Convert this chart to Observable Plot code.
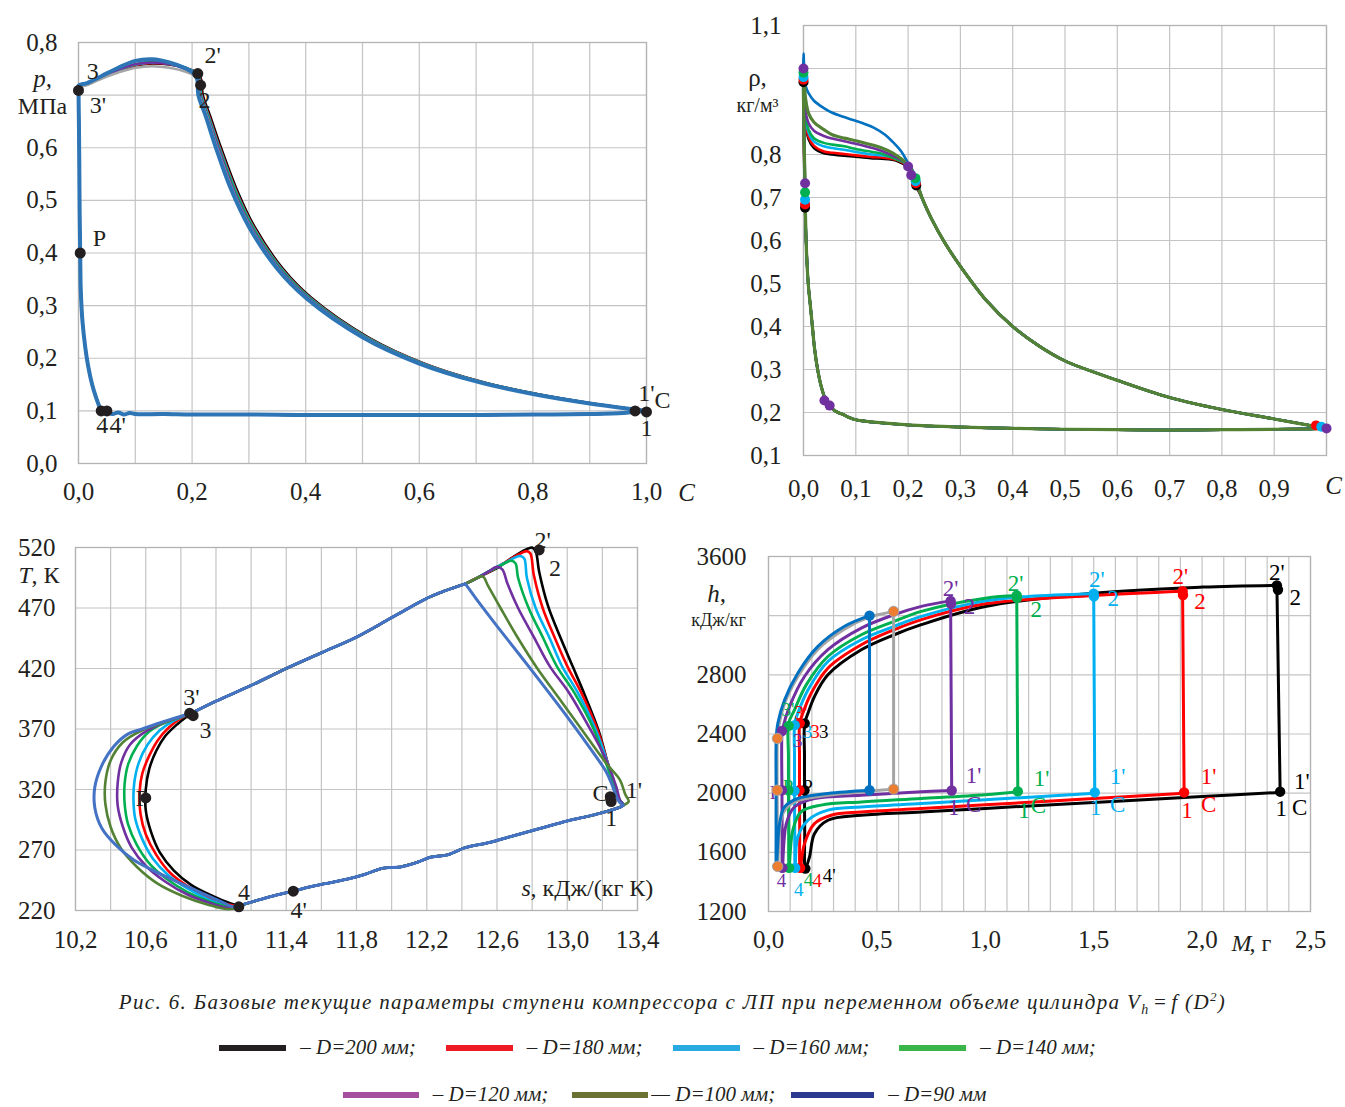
<!DOCTYPE html>
<html><head><meta charset="utf-8">
<script src="https://cdn.jsdelivr.net/npm/d3@7"></script>
<script src="https://cdn.jsdelivr.net/npm/@observablehq/plot@0.6"></script>
<style>
body{margin:0;background:#fff;}
#root{position:relative;width:1345px;height:1107px;overflow:hidden;font-family:"Liberation Serif","Times New Roman",serif;color:#231f20;}
.panel{position:absolute;}
.panel svg{overflow:visible;}
.cap{position:absolute;left:0;width:1345px;text-align:center;font-style:italic;font-size:21px;letter-spacing:1.35px;white-space:nowrap;}
.leg{position:absolute;left:0;width:1345px;display:flex;justify-content:center;align-items:center;font-style:italic;font-size:21px;white-space:nowrap;}
.sw{display:inline-block;height:6px;}
.lt{margin-left:14px;margin-right:30px;}
</style></head>
<body><div id="root"></div>
<script>
// ---------------- series ----------------
const seriesNames = ["D=200 мм","D=180 мм","D=160 мм","D=140 мм","D=120 мм","D=100 мм","D=90 мм"];

// ---------------- Panel 1: p(C) ----------------
const pcColors = ["#000000","#ff0000","#00b0f0","#00b050","#7030a0","#a5a5a5","#2e75b6"];
const pcWidths = [2.4,2.4,2.4,2.4,2.4,2.6,4];
const pcCompD200 = [[1.0,0.1],[0.905,0.114],[0.807,0.132],[0.708,0.156],[0.609,0.19],[0.51,0.24],[0.41,0.315],[0.36,0.37],[0.31,0.45],[0.279,0.52],[0.251,0.6],[0.232,0.66],[0.219,0.7]];
const pcCompD180 = [[1.0,0.1],[0.904,0.114],[0.806,0.132],[0.707,0.156],[0.608,0.19],[0.508,0.24],[0.408,0.315],[0.358,0.37],[0.308,0.45],[0.277,0.52],[0.249,0.6],[0.23,0.66],[0.217,0.7]];
const pcCompD160 = [[1.0,0.1],[0.904,0.114],[0.805,0.132],[0.706,0.156],[0.607,0.19],[0.507,0.24],[0.407,0.315],[0.357,0.37],[0.307,0.45],[0.276,0.52],[0.248,0.6],[0.229,0.66],[0.216,0.7]];
const pcCompD140 = [[1.0,0.1],[0.903,0.114],[0.805,0.132],[0.706,0.156],[0.606,0.19],[0.506,0.24],[0.406,0.315],[0.356,0.37],[0.306,0.45],[0.275,0.52],[0.247,0.6],[0.228,0.66],[0.215,0.7]];
const pcCompD120 = [[1.0,0.1],[0.902,0.114],[0.803,0.132],[0.704,0.156],[0.604,0.19],[0.504,0.24],[0.404,0.315],[0.354,0.37],[0.304,0.45],[0.273,0.52],[0.246,0.6],[0.227,0.66],[0.214,0.7]];
const pcCompD100 = [[1.0,0.1],[0.901,0.114],[0.802,0.132],[0.702,0.156],[0.602,0.19],[0.502,0.24],[0.402,0.315],[0.352,0.37],[0.302,0.45],[0.271,0.52],[0.244,0.6],[0.226,0.66],[0.213,0.7]];
const pcCompD90  = [[1.0,0.1],[0.9,0.114],[0.8,0.132],[0.7,0.156],[0.6,0.19],[0.5,0.24],[0.4,0.315],[0.35,0.37],[0.3,0.45],[0.269,0.52],[0.242,0.6],[0.224,0.66],[0.211,0.7]];
const pcDisD200 = [[0.216,0.73],[0.21,0.742],[0.19,0.751],[0.16,0.758],[0.13,0.76],[0.1,0.756],[0.07,0.745],[0.04,0.732],[0.015,0.72],[0.0,0.715]];
const pcDisD180 = [[0.214,0.731],[0.208,0.742],[0.19,0.752],[0.16,0.759],[0.13,0.761],[0.1,0.757],[0.07,0.746],[0.04,0.733],[0.015,0.721],[0.0,0.715]];
const pcDisD160 = [[0.213,0.731],[0.207,0.742],[0.19,0.752],[0.16,0.76],[0.13,0.762],[0.1,0.758],[0.07,0.747],[0.04,0.733],[0.015,0.721],[0.0,0.716]];
const pcDisD140 = [[0.212,0.731],[0.206,0.741],[0.19,0.751],[0.16,0.76],[0.13,0.763],[0.1,0.759],[0.07,0.748],[0.04,0.734],[0.015,0.721],[0.0,0.716]];
const pcDisD120 = [[0.211,0.73],[0.205,0.74],[0.19,0.749],[0.16,0.759],[0.13,0.762],[0.1,0.759],[0.07,0.748],[0.04,0.734],[0.015,0.721],[0.0,0.716]];
const pcDisD100 = [[0.211,0.728],[0.204,0.737],[0.19,0.744],[0.16,0.752],[0.13,0.755],[0.1,0.752],[0.07,0.743],[0.04,0.731],[0.015,0.719],[0.0,0.714]];
const pcDisD90  = [[0.209,0.73],[0.202,0.742],[0.19,0.75],[0.16,0.762],[0.13,0.768],[0.1,0.765],[0.07,0.752],[0.04,0.736],[0.015,0.723],[0.0,0.718]];
const pcExp = [[0.0,0.71],[0.001,0.62],[0.0015,0.55],[0.002,0.48],[0.003,0.4],[0.004,0.33],[0.007,0.27],[0.012,0.22],[0.017,0.185],[0.024,0.15],[0.031,0.125],[0.038,0.105],[0.042,0.098]];
const pcSuc = [[0.05,0.097],[0.06,0.094],[0.07,0.097],[0.08,0.093],[0.09,0.096],[0.1,0.094],[0.15,0.094],[0.2,0.093],[0.3,0.093],[0.4,0.092],[0.5,0.092],[0.6,0.092],[0.7,0.092],[0.8,0.093],[0.9,0.094],[0.96,0.096],[1.0,0.1]];
const pcDots = [[0.0,0.709],[0.21,0.741],[0.215,0.719],[0.003,0.4],[0.04,0.1],[0.05,0.1],[0.98,0.1],[1.0,0.098]];
const pcLabels = [["3",0.025,0.745],["3'",0.034,0.68],["2'",0.236,0.775],["2",0.222,0.69],["P",0.037,0.428],["4",0.042,0.072],["4'",0.069,0.072],["1'",1.0,0.133],["C",1.028,0.12],["1",1.0,0.066]];
const pcXTicks = [0,0.2,0.4,0.6,0.8,1.0];
const pcYTicks = [0,0.1,0.2,0.3,0.4,0.5,0.6,0.8];

// ---------------- Panel 2: rho(C) ----------------
const rcColors = ["#000000","#ff0000","#00b0f0","#00b050","#7030a0","#548235","#0070c0"];
const rcComp = [[1.0,0.163],[0.9,0.185],[0.8,0.207],[0.7,0.235],[0.6,0.275],[0.5,0.32],[0.45,0.355],[0.4,0.4],[0.35,0.46],[0.3,0.54],[0.27,0.595],[0.245,0.65],[0.228,0.695]];
const rcDisD200 = [[0.2156,0.728],[0.21,0.752],[0.2,0.77],[0.179,0.785],[0.15,0.79],[0.132,0.791],[0.1,0.795],[0.078,0.797],[0.055,0.8],[0.039,0.803],[0.02,0.815],[0.01,0.835],[0.004,0.87],[0.0,0.968],[0.003,0.676]];
const rcDisD180 = [[0.215,0.733],[0.209,0.755],[0.2,0.772],[0.179,0.787],[0.15,0.793],[0.132,0.794],[0.1,0.798],[0.078,0.801],[0.055,0.804],[0.039,0.807],[0.02,0.82],[0.01,0.84],[0.004,0.875],[0.0,0.974],[0.003,0.684]];
const rcDisD160 = [[0.2145,0.738],[0.208,0.758],[0.2,0.774],[0.179,0.79],[0.15,0.798],[0.132,0.8],[0.1,0.806],[0.078,0.811],[0.055,0.815],[0.039,0.819],[0.02,0.83],[0.01,0.85],[0.004,0.885],[0.0,0.98],[0.003,0.695]];
const rcDisD140 = [[0.214,0.742],[0.207,0.761],[0.2,0.777],[0.179,0.788],[0.15,0.802],[0.132,0.806],[0.1,0.813],[0.078,0.819],[0.055,0.823],[0.039,0.827],[0.02,0.838],[0.01,0.857],[0.004,0.89],[0.0,0.99],[0.003,0.712]];
const rcDisD120 = [[0.213,0.747],[0.206,0.765],[0.2,0.777],[0.179,0.792],[0.15,0.808],[0.132,0.815],[0.1,0.825],[0.078,0.831],[0.055,0.837],[0.039,0.843],[0.02,0.855],[0.01,0.872],[0.004,0.9],[0.0,1.0],[0.003,0.733]];
const rcDisD100 = [[0.212,0.75],[0.205,0.768],[0.2,0.776],[0.171,0.803],[0.15,0.815],[0.132,0.822],[0.1,0.832],[0.078,0.838],[0.055,0.846],[0.039,0.858],[0.02,0.875],[0.01,0.895],[0.004,0.93],[0.0,0.995],[0.003,0.72]];
const rcDisD90  = [[0.21,0.76],[0.2,0.78],[0.187,0.807],[0.17,0.83],[0.156,0.846],[0.135,0.862],[0.117,0.871],[0.095,0.88],[0.078,0.887],[0.055,0.897],[0.039,0.908],[0.02,0.925],[0.01,0.942],[0.004,0.96],[0.0,1.035],[0.003,0.72]];
const rcExp = [[0.005,0.6],[0.009,0.5],[0.013,0.45],[0.017,0.4],[0.021,0.35],[0.027,0.3],[0.034,0.26],[0.043,0.227]];
const rcSuc = [[0.05,0.215],[0.058,0.206],[0.066,0.2],[0.075,0.196],[0.086,0.189],[0.1,0.183],[0.13,0.178],[0.2,0.171],[0.3,0.166],[0.4,0.163],[0.5,0.161],[0.6,0.16],[0.7,0.159],[0.8,0.16],[0.9,0.161],[0.97,0.162],[1.0,0.163]];
const rcDotsD200 = [[0.0,0.968],[0.003,0.676],[0.2156,0.728]];
const rcDotsD180 = [[0.0,0.974],[0.003,0.684],[0.215,0.733],[0.98,0.17]];
const rcDotsD160 = [[0.0,0.98],[0.003,0.695],[0.2145,0.738],[0.99,0.167]];
const rcDotsD140 = [[0.0,0.99],[0.003,0.712],[0.214,0.745]];
const rcDotsD120 = [[0.0,1.0],[0.003,0.733],[0.206,0.752],[0.2,0.772],[0.04,0.228],[0.05,0.216],[1.0,0.163]];
const rcXTicks = [0,0.1,0.2,0.3,0.4,0.5,0.6,0.7,0.8,0.9];
const rcYTicks = [0.1,0.2,0.3,0.4,0.5,0.6,0.7,0.8,1.1];

// ---------------- Panel 3: T(s) ----------------
const tsColors = ["#000000","#ff0000","#00b0f0","#00b050","#7030a0","#548235","#4472c4"];
const tsSuc = [[11.13,224],[11.25,229],[11.35,233],[11.44,236],[11.55,240],[11.65,243],[11.75,246],[11.85,250],[11.95,255],[12.05,256],[12.15,260],[12.22,264],[12.32,266],[12.42,272],[12.55,276],[12.7,282],[12.85,288],[13.0,294],[13.15,299],[13.25,303],[13.32,307]];
const tsDis = [[12.42,490],[12.3,484],[12.2,478],[12.0,462],[11.8,446],[11.6,433],[11.4,420],[11.2,406],[11.0,393],[10.86,383]];
const tsCompD200 = [[13.3,311],[13.27,322],[13.23,342],[13.18,368],[13.1,398],[13.03,422],[12.96,446],[12.89,472],[12.84,500],[12.82,517],[12.8,520],[12.76,518],[12.68,511],[12.6,503],[12.5,496],[12.42,490]];
const tsCompD180 = [[13.3,311],[13.27,322],[13.23,342],[13.17,370],[13.08,400],[13.0,422],[12.93,445],[12.86,470],[12.81,497],[12.79,515],[12.77,517],[12.72,514],[12.66,509],[12.58,502],[12.5,496],[12.42,490]];
const tsCompD160 = [[13.3,311],[13.27,322],[13.23,342],[13.16,370],[13.06,400],[12.97,422],[12.9,445],[12.82,470],[12.77,495],[12.755,511],[12.73,513],[12.68,510],[12.6,504],[12.5,496],[12.42,490]];
const tsCompD140 = [[13.3,311],[13.27,322],[13.22,342],[13.15,370],[13.04,400],[12.94,422],[12.86,446],[12.78,470],[12.72,495],[12.705,507],[12.68,509],[12.62,505],[12.55,500],[12.48,494],[12.42,490]];
const tsCompD120 = [[13.3,311],[13.28,322],[13.22,345],[13.13,370],[13.01,400],[12.9,422],[12.81,446],[12.72,470],[12.66,490],[12.63,502],[12.6,504],[12.55,500],[12.48,494],[12.42,490]];
const tsCompD100 = [[13.35,310],[13.33,316],[13.3,328],[13.22,342],[13.08,370],[12.95,396],[12.83,420],[12.72,445],[12.62,470],[12.55,488],[12.52,496],[12.49,495],[12.45,492],[12.42,490]];
const tsCompD90  = [[13.3,309],[13.28,314],[13.26,322],[13.22,335],[13.15,350],[13.0,380],[12.8,418],[12.6,455],[12.5,474],[12.44,486],[12.42,490]];
const tsBulgeD200 = [[10.86,383],[10.78,374],[10.71,364],[10.66,352],[10.62,337],[10.6,320],[10.6,303],[10.63,285],[10.68,268],[10.76,253],[10.86,241],[10.98,232],[11.08,226],[11.13,224]];
const tsBulgeD180 = [[10.86,383],[10.8,379],[10.73,371],[10.67,361],[10.62,348],[10.58,333],[10.565,318],[10.57,300],[10.6,283],[10.66,266],[10.74,251],[10.85,239],[10.97,230],[11.07,225],[11.13,224]];
const tsBulgeD160 = [[10.86,383],[10.76,377],[10.68,369],[10.61,357],[10.56,342],[10.535,326],[10.53,312],[10.54,296],[10.58,279],[10.64,263],[10.73,249],[10.84,238],[10.96,229],[11.07,224],[11.13,223]];
const tsBulgeD140 = [[10.86,383],[10.72,376],[10.62,368],[10.55,356],[10.5,341],[10.48,325],[10.48,308],[10.5,291],[10.55,274],[10.62,259],[10.72,246],[10.84,235],[10.97,227],[11.08,223],[11.13,223]];
const tsBulgeD120 = [[10.86,383],[10.7,375],[10.6,368],[10.51,357],[10.46,342],[10.44,325],[10.44,307],[10.47,289],[10.52,272],[10.6,257],[10.71,244],[10.84,233],[10.97,226],[11.08,222],[11.13,223]];
const tsBulgeD100 = [[10.86,383],[10.7,375],[10.58,369],[10.47,359],[10.4,344],[10.37,326],[10.37,308],[10.4,289],[10.46,271],[10.55,256],[10.67,242],[10.81,232],[10.95,225],[11.07,221],[11.13,223]];
const tsBulgeD90  = [[10.86,383],[10.7,376],[10.58,370],[10.5,366],[10.42,356],[10.35,340],[10.31,322],[10.31,305],[10.35,288],[10.43,274],[10.53,262],[10.63,254],[10.73,247],[10.88,237],[11.02,228],[11.1,223],[11.13,224]];
const tsDots = [[12.84,518],[10.85,383],[10.87,381],[10.6,313],[11.13,223],[11.44,236],[13.245,314],[13.25,310]];
const tsLabels = [["2'",12.86,526],["2",12.93,503],["3'",10.86,396],["3",10.94,369],["P",10.58,313],["4",11.16,235],["4'",11.47,220],["C",13.19,317],["1'",13.38,319],["1",13.25,296]];
const tsXTicks = [10.2,10.6,11.0,11.4,11.8,12.2,12.6,13.0,13.4];
const tsYTicks = [220,270,320,370,420,470,520];

// ---------------- Panel 4: h(M) ----------------
// each loop: 2' -> discharge -> 3 -> P -> 4 -> suction -> 1' (the rise 1'->2' closes it)
const hmColors = ["#000000","#ff0000","#00b0f0","#00b050","#7030a0","#a5a5a5","#0070c0"];
const hmDotColors = ["#000000","#ff0000","#00b0f0","#00b050","#7030a0","#ed7d31","#0070c0"];
const hmD200 = [[2.345,3405],[2.0,3393],[1.5,3352],[1.0,3262],[0.705,3139],[0.58,3071],[0.428,2969],[0.274,2800],[0.212,2653],[0.182,2540],[0.167,2472],[0.166,2250],[0.166,2020],[0.167,1750],[0.17,1490],[0.189,1568],[0.212,1726],[0.274,1817],[0.428,1851],[0.705,1873],[1.0,1897],[1.5,1937],[2.0,1977],[2.36,2005]];
const hmD180 = [[1.91,3365],[1.5,3336],[1.0,3280],[0.705,3173],[0.58,3105],[0.428,3003],[0.274,2845],[0.197,2676],[0.158,2540],[0.144,2472],[0.143,2250],[0.143,2020],[0.144,1750],[0.146,1495],[0.166,1659],[0.212,1794],[0.289,1851],[0.428,1873],[0.705,1896],[1.0,1921],[1.5,1964],[1.917,2000]];
const hmD160 = [[1.5,3348],[1.2,3330],[1.0,3300],[0.705,3195],[0.58,3128],[0.428,3037],[0.274,2890],[0.182,2698],[0.135,2540],[0.121,2472],[0.12,2250],[0.12,2020],[0.121,1750],[0.123,1495],[0.135,1704],[0.182,1817],[0.274,1885],[0.428,1907],[0.705,1930],[1.0,1955],[1.505,2000]];
const hmD140 = [[1.145,3336],[1.0,3318],[0.705,3229],[0.58,3162],[0.428,3071],[0.274,2924],[0.174,2732],[0.12,2563],[0.093,2472],[0.092,2250],[0.092,2020],[0.093,1750],[0.095,1495],[0.112,1749],[0.15,1873],[0.243,1919],[0.428,1941],[0.705,1964],[1.0,1990],[1.15,2010]];
const hmD120 = [[0.84,3300],[0.705,3263],[0.58,3207],[0.428,3116],[0.274,2970],[0.166,2789],[0.097,2585],[0.066,2440],[0.062,2400],[0.062,2020],[0.063,1750],[0.064,1495],[0.082,1794],[0.12,1907],[0.212,1964],[0.428,1986],[0.705,2009],[0.845,2018]];
const hmD100 = [[0.577,3229],[0.5,3205],[0.466,3192],[0.35,3108],[0.228,2972],[0.135,2788],[0.074,2605],[0.046,2440],[0.041,2370],[0.04,2020],[0.041,1750],[0.042,1500],[0.066,1862],[0.12,1941],[0.274,1986],[0.577,2027]];
const hmD90  = [[0.466,3200],[0.351,3128],[0.228,2992],[0.135,2811],[0.074,2630],[0.043,2472],[0.036,2382],[0.035,2020],[0.035,1750],[0.036,1500],[0.051,1794],[0.074,1907],[0.135,1964],[0.274,1998],[0.466,2020]];
const hmDotsD200 = [[2.345,3405],[2.35,3375],[2.36,2010],[0.167,2472],[0.166,2020],[0.17,1490]];
const hmDotsD180 = [[1.91,3365],[1.912,3340],[1.917,2005],[0.144,2472],[0.143,2020],[0.146,1495]];
const hmDotsD160 = [[1.5,3348],[1.501,3330],[1.505,2005],[0.121,2460],[0.12,2015],[0.123,1495]];
const hmDotsD140 = [[1.145,3336],[1.146,3320],[1.15,2012],[0.093,2455],[0.092,2020],[0.095,1495]];
const hmDotsD120 = [[0.84,3300],[0.842,3280],[0.845,2018],[0.062,2420],[0.062,2020],[0.064,1495]];
const hmDotsD100 = [[0.577,3229],[0.577,2027],[0.041,2370],[0.04,2020],[0.042,1505]];
const hmDotsD90  = [[0.466,3200],[0.466,2020]];
const hmLabD200 = [["2'",2.345,3490],["2",2.43,3320],["1'",2.46,2075],["C",2.45,1905],["1",2.365,1895]];
const hmLabD180 = [["2'",1.9,3465],["2",1.99,3295],["1'",2.03,2110],["C",2.03,1925],["1",1.93,1880]];
const hmLabD160 = [["2'",1.515,3442],["2",1.59,3318],["1'",1.61,2110],["C",1.61,1920],["1",1.51,1900]];
const hmLabD140 = [["2'",1.14,3420],["2",1.235,3238],["1'",1.26,2095],["C",1.245,1918],["1",1.178,1880]];
const hmLabD120 = [["2'",0.84,3386],["2",0.927,3260],["1'",0.946,2120],["C",0.946,1920],["1",0.855,1900]];
const hmClusterD200 = [["3",0.255,2416],["P",0.18,2040],["4'",0.28,1444]];
const hmClusterD180 = [["3'",0.15,2545],["3",0.215,2416],["4",0.225,1410]];
const hmClusterD160 = [["3",0.18,2416],["4",0.14,1345]];
const hmClusterD140 = [["3'",0.09,2560],["P",0.09,2040],["4",0.185,1415]];
const hmClusterD120 = [["3",0.135,2350],["P",0.03,2000],["4",0.06,1405]];
const hmXTicks = [0,0.5,1.0,1.5,2.0,2.5];
const hmYTicks = [1200,1600,2000,2400,2800,3600];

// ---------------- caption & legend ----------------
const captionMain = "Рис. 6. Базовые текущие параметры ступени компрессора с ЛП при переменном объеме цилиндра ";
const legendColors = ["#231f20","#ed1c24","#29abe2","#39b54a","#a5509f","#6b7133","#2b3990"];
const legendDash = ["–","–","–","–","–","—","–"];
const legendEnd = [";",";",";",";",";",";",""];

// ================= drawing =================
const root = document.getElementById("root");
const fmt1 = d => d.toFixed(1).replace(".", ",");
const fmt0 = d => String(d);
const rowsOf = parts => parts.flat().map(([x, y]) => ({x, y}));
const ptsOf = arr => arr.map(([x, y]) => ({x, y}));
const labsOf = arr => arr.map(([t, x, y]) => ({t, x, y}));
const GRID = {stroke: "#c4c4c4", strokeOpacity: 1, strokeWidth: 1.2};
const FONT = '"Liberation Serif","Times New Roman",serif';

function makePanel(o) {
  const svg = Plot.plot({
    width: o.width, height: o.height,
    marginLeft: o.ml, marginRight: o.mr, marginTop: o.mt, marginBottom: o.mb,
    x: {domain: o.xDomain}, y: {domain: o.yDomain},
    style: {fontFamily: FONT, fontSize: "25px", background: "transparent", overflow: "visible", color: "#231f20"},
    marks: [
      Plot.gridX(o.xGrid, GRID),
      Plot.gridY(o.yGrid, GRID),
      Plot.frame({stroke: "#b3b3b3", strokeWidth: 1.3}),
      Plot.axisX(o.xTicks, {tickSize: 0, tickPadding: o.xPad, tickFormat: o.xFmt, label: null, fontSize: 25}),
      Plot.axisY(o.yTicks, {tickSize: 0, tickPadding: o.yPad, tickFormat: o.yFmt, label: null, fontSize: 25}),
      ...o.marks
    ]
  });
  const div = document.createElement("div");
  div.className = "panel";
  div.style.left = o.left + "px";
  div.style.top = o.top + "px";
  div.appendChild(svg);
  root.appendChild(div);
}
// axis titles placed relative to the frame corners
function title(t, anchor, dx, dy, extra) {
  return Plot.text([t], Object.assign({frameAnchor: anchor, text: d => d, dx: dx, dy: dy, fill: "#231f20", textAnchor: "middle", lineAnchor: "middle"}, extra || {}));
}

// ---- Panel 1 ----
{
  const comps = [pcCompD200, pcCompD180, pcCompD160, pcCompD140, pcCompD120, pcCompD100, pcCompD90];
  const diss = [pcDisD200, pcDisD180, pcDisD160, pcDisD140, pcDisD120, pcDisD100, pcDisD90];
  const lines = comps.map((c, i) => Plot.line(rowsOf([c, diss[i], pcExp, pcSuc]), {x: "x", y: "y", stroke: pcColors[i], strokeWidth: pcWidths[i], curve: "catmull-rom"}));
  makePanel({
    left: 0, top: 0, width: 700, height: 520, ml: 78, mr: 54, mt: 42, mb: 57,
    xDomain: [0, 1], yDomain: [0, 0.8],
    xGrid: d3.range(0, 1.001, 0.1), yGrid: d3.range(0, 0.801, 0.1),
    xTicks: pcXTicks, yTicks: pcYTicks, xFmt: fmt1, yFmt: fmt1, xPad: 19, yPad: 21,
    marks: [
      ...lines,
      Plot.dot(ptsOf(pcDots), {x: "x", y: "y", r: 5.5, fill: "#231f20"}),
      Plot.text(labsOf(pcLabels), {x: "x", y: "y", text: "t", fontSize: 24, fill: "#231f20"}),
      title("p,", "top-left", -36, 36, {fontStyle: "italic", fontSize: 25}),
      title("МПа", "top-left", -36, 64, {fontSize: 24}),
      title("C", "bottom-right", 40, 29, {fontStyle: "italic", fontSize: 25})
    ]
  });
}

// ---- Panel 2 ----
{
  const diss = [rcDisD200, rcDisD180, rcDisD160, rcDisD140, rcDisD120, rcDisD100, rcDisD90];
  const order = [0, 1, 2, 3, 4, 6, 5];
  const lines = order.map(i => Plot.line(rowsOf([rcComp, diss[i], rcExp, rcSuc]), {x: "x", y: "y", stroke: rcColors[i], strokeWidth: i === 5 ? 3.2 : 2.6, curve: "catmull-rom"}));
  const dotSets = [rcDotsD200, rcDotsD180, rcDotsD160, rcDotsD140, rcDotsD120];
  const dots = dotSets.map((d, i) => Plot.dot(ptsOf(d), {x: "x", y: "y", r: 5, fill: rcColors[i]}));
  makePanel({
    left: 690, top: 0, width: 655, height: 520, ml: 113, mr: 19, mt: 25, mb: 65,
    xDomain: [0, 1], yDomain: [0.1, 1.1],
    xGrid: d3.range(0, 1.001, 0.1), yGrid: d3.range(0.1, 1.101, 0.1),
    xTicks: rcXTicks, yTicks: rcYTicks, xFmt: fmt1, yFmt: fmt1, xPad: 24, yPad: 22,
    marks: [
      ...lines, ...dots,
      title("ρ,", "top-left", -46, 52, {fontSize: 25}),
      title("кг/м³", "top-left", -46, 80, {fontSize: 20}),
      title("C", "bottom-right", 7, 30, {fontStyle: "italic", fontSize: 25})
    ]
  });
}

// ---- Panel 3 ----
{
  const comps = [tsCompD200, tsCompD180, tsCompD160, tsCompD140, tsCompD120, tsCompD100, tsCompD90];
  const bulges = [tsBulgeD200, tsBulgeD180, tsBulgeD160, tsBulgeD140, tsBulgeD120, tsBulgeD100, tsBulgeD90];
  const lines = comps.map((c, i) => Plot.line(rowsOf([tsSuc, c, tsDis, bulges[i]]), {x: "x", y: "y", stroke: tsColors[i], strokeWidth: i === 6 ? 3 : 2.6, curve: "catmull-rom"}));
  makePanel({
    left: 0, top: 520, width: 690, height: 440, ml: 75, mr: 53, mt: 27, mb: 50,
    xDomain: [10.2, 13.4], yDomain: [220, 520],
    xGrid: d3.range(10.2, 13.401, 0.2), yGrid: d3.range(220, 521, 50),
    xTicks: tsXTicks, yTicks: tsYTicks, xFmt: fmt1, yFmt: fmt0, xPad: 20, yPad: 20,
    marks: [
      ...lines,
      Plot.text(labsOf(tsLabels), {x: "x", y: "y", text: "t", fontSize: 24, fill: "#231f20"}),
      Plot.dot(ptsOf(tsDots), {x: "x", y: "y", r: 5.5, fill: "#231f20"}),
      title("T", "top-left", -57, 28, {fontStyle: "italic", textAnchor: "start", fontSize: 24}),
      title(", К", "top-left", -44, 28, {textAnchor: "start", fontSize: 24}),
      title("s", "bottom-right", -116, -22, {fontStyle: "italic", textAnchor: "start", fontSize: 24}),
      title(", кДж/(кг К)", "bottom-right", -107, -22, {textAnchor: "start", fontSize: 24})
    ]
  });
}

// ---- Panel 4 ----
{
  const loops = [hmD200, hmD180, hmD160, hmD140, hmD120, hmD100, hmD90];
  const dotSets = [hmDotsD200, hmDotsD180, hmDotsD160, hmDotsD140, hmDotsD120, hmDotsD100, hmDotsD90];
  const labSets = [hmLabD200, hmLabD180, hmLabD160, hmLabD140, hmLabD120];
  const clusterSets = [hmClusterD200, hmClusterD180, hmClusterD160, hmClusterD140, hmClusterD120];
  const curves = loops.map((l, i) => Plot.line(ptsOf(l), {x: "x", y: "y", stroke: hmColors[i], strokeWidth: 3, curve: "catmull-rom"}));
  const rises = loops.map((l, i) => Plot.line(ptsOf([l[l.length - 1], l[0]]), {x: "x", y: "y", stroke: hmColors[i], strokeWidth: 3}));
  const labs = labSets.map((l, i) => Plot.text(labsOf(l), {x: "x", y: "y", text: "t", fontSize: 23, fill: hmColors[i]}));
  const clus = clusterSets.map((l, i) => Plot.text(labsOf(l), {x: "x", y: "y", text: "t", fontSize: 19, fill: hmColors[i]}));
  const dots = dotSets.map((d, i) => Plot.dot(ptsOf(d), {x: "x", y: "y", r: 5.2, fill: hmDotColors[i], stroke: i === 5 ? "#a5a5a5" : "none", strokeWidth: 1}));
  makePanel({
    left: 690, top: 520, width: 655, height: 440, ml: 78, mr: 35, mt: 36, mb: 49,
    xDomain: [0, 2.5], yDomain: [1200, 3600],
    xGrid: d3.range(0, 2.501, 0.1), yGrid: d3.range(1200, 3601, 400),
    xTicks: hmXTicks, yTicks: hmYTicks, xFmt: fmt1, yFmt: fmt0, xPad: 19, yPad: 22,
    marks: [
      ...curves, ...rises, ...labs, ...clus, ...dots,
      title("h,", "top-left", -52, 37, {fontStyle: "italic", fontSize: 25}),
      title("кДж/кг", "top-left", -50, 64, {fontSize: 18}),
      title("M", "bottom-right", -79, 32, {fontStyle: "italic", textAnchor: "start", fontSize: 24}),
      title(", г", "bottom-right", -61, 32, {textAnchor: "start", fontSize: 24})
    ]
  });
}

// ---- caption & legend ----
{
  const cap = document.createElement("div");
  cap.className = "cap";
  cap.style.top = "989px";
  cap.innerHTML = captionMain + "V<sub style='font-size:14px'>h</sub>&#8202;=&#8202;f (D<sup style='font-size:13px'>2</sup>)";
  root.appendChild(cap);
  const rows = [[0, 1, 2, 3], [4, 5, 6]];
  const tops = [1035, 1082];
  rows.forEach((r, ri) => {
    const leg = document.createElement("div");
    leg.className = "leg";
    leg.style.top = tops[ri] + "px";
    r.forEach((i, j) => {
      const sw = document.createElement("span");
      sw.className = "sw";
      sw.style.background = legendColors[i];
      sw.style.width = (ri === 0 ? 67 : (i === 6 ? 83 : 76)) + "px";
      const t = document.createElement("span");
      t.className = "lt";
      if (legendDash[i] === "—") t.style.marginLeft = "3px";
      if (ri === 1) t.style.marginRight = (i === 4 ? "24px" : "16px");
      t.textContent = legendDash[i] + " " + seriesNames[i] + legendEnd[i];
      leg.appendChild(sw); leg.appendChild(t);
    });
    root.appendChild(leg);
  });
}
</script>
</body></html>
